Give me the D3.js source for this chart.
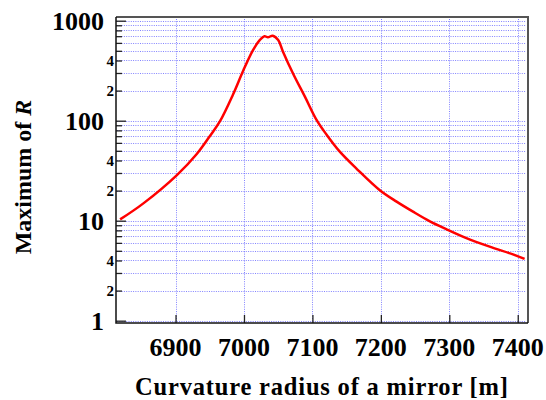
<!DOCTYPE html>
<html>
<head>
<meta charset="utf-8">
<script src="https://cdn.jsdelivr.net/npm/d3@7"></script>
<style>
  body { margin: 0; background: #fff; }
  text { font-family: "Liberation Serif"; font-weight: bold; }
</style>
</head>
<body>
<div id="chart"></div>
<script>
// data
const radius = [6819, 6853, 6902, 6931, 6950, 6965, 6984, 6999, 7013, 7023, 7030, 7035, 7042, 7050,
                7057, 7072, 7089, 7106, 7121, 7140, 7164, 7198, 7223, 7247, 7271, 7296, 7325, 7359, 7393, 7410];
const maxR = [10.3, 14.9, 28.6, 46.5, 70, 99, 183, 318, 505, 640, 700, 682, 708, 641,
              490, 293, 174, 102, 72, 49, 33.4, 20.3, 15.5, 12.3, 9.9, 8.2, 6.7, 5.5, 4.6, 4.15];
const xTicks = [6900, 7000, 7100, 7200, 7300, 7400];
const yDecades = [1, 10, 100, 1000];
const yMinorLabels = [2, 4, 20, 40, 200, 400];

const width = 546, height = 400;
const margin = {left: 116, top: 17, right: 18, bottom: 77};
const plotW = width - margin.left - margin.right;
const plotH = height - margin.top - margin.bottom;
const FONT = "Liberation Serif";

// every 1..9 step of each decade, for grid + minor ticks
const yGridVals = [];
yDecades.forEach(d => { for (let k = 1; k < 10; k++) { if (d * k <= 1000) yGridVals.push(d * k); } });

const svg = d3.select("#chart").append("svg")
    .attr("width", width)
    .attr("height", height);

const x = d3.scaleLinear().domain([6813, 7415]).range([margin.left, margin.left + plotW]);
const y = d3.scaleLog().domain([0.948, 1089]).range([margin.top + plotH, margin.top]);

///
/// GRID
///

const grid = svg.append("g")
    .attr("stroke", "#5a5aff")
    .attr("stroke-opacity", 0.75)
    .attr("stroke-width", 1)
    .attr("stroke-dasharray", "1,1.3");

grid.selectAll("line.h")
    .data(yGridVals)
    .join("line")
    .attr("class", "h")
    .attr("x1", margin.left + 1)
    .attr("x2", margin.left + plotW - 2)
    .attr("y1", d => Math.round(y(d)) + 0.5)
    .attr("y2", d => Math.round(y(d)) + 0.5);

grid.selectAll("line.v")
    .data(xTicks)
    .join("line")
    .attr("class", "v")
    .attr("x1", d => Math.round(x(d)) + 0.5)
    .attr("x2", d => Math.round(x(d)) + 0.5)
    .attr("y1", margin.top + 2)
    .attr("y2", margin.top + plotH - 1);

///
/// CURVE
///

const line = d3.line()
    .x((d, i) => x(radius[i]))
    .y(d => y(d))
    .curve(d3.curveCatmullRom.alpha(0.5));

svg.append("path")
    .datum(maxR)
    .attr("fill", "none")
    .attr("stroke", "#ff0000")
    .attr("stroke-width", 2.5)
    .attr("d", line);

///
/// AXES
///

// ticks inside the frame
const yAxis = d3.axisLeft(y)
    .tickValues(yGridVals)
    .tickSize(-6)
    .tickFormat("");
const yAx = svg.append("g")
    .attr("transform", `translate(${margin.left},0)`)
    .call(yAxis);
yAx.select(".domain").remove();
yAx.selectAll(".tick line")
    .attr("stroke", "#222")
    .attr("stroke-width", 1.3)
    .attr("x2", d => yDecades.includes(d) ? 10 : 6);

const xAxis = d3.axisBottom(x)
    .tickValues(xTicks)
    .tickSize(-8)
    .tickFormat("");
const xAx = svg.append("g")
    .attr("transform", `translate(0,${margin.top + plotH})`)
    .call(xAxis);
xAx.select(".domain").remove();
xAx.selectAll(".tick line").attr("stroke", "#222").attr("stroke-width", 1.3);

// frame
svg.append("path")
    .attr("d", `M${margin.left},${margin.top} H${margin.left + plotW} V${margin.top + plotH}`)
    .attr("fill", "none")
    .attr("stroke", "#555")
    .attr("stroke-width", 2);
svg.append("path")
    .attr("d", `M${margin.left},${margin.top} V${margin.top + plotH} H${margin.left + plotW}`)
    .attr("fill", "none")
    .attr("stroke", "#111")
    .attr("stroke-width", 1.5);

///
/// LABELS
///

svg.append("g").selectAll("text")
    .data(yDecades)
    .join("text")
    .attr("font-family", FONT)
    .attr("font-weight", "bold")
    .attr("x", 104)
    .attr("y", d => y(d))
    .attr("dy", "0.34em")
    .attr("text-anchor", "end")
    .attr("font-size", 26)
    .text(d => d);

svg.append("g").selectAll("text")
    .data(yMinorLabels)
    .join("text")
    .attr("font-family", FONT)
    .attr("font-weight", "bold")
    .attr("x", 114)
    .attr("y", d => y(d))
    .attr("dy", "0.34em")
    .attr("text-anchor", "end")
    .attr("font-size", 15)
    .text(d => String(d)[0]);

svg.append("g").selectAll("text")
    .data(xTicks)
    .join("text")
    .attr("font-family", FONT)
    .attr("font-weight", "bold")
    .attr("x", d => x(d))
    .attr("y", 356)
    .attr("text-anchor", "middle")
    .attr("font-size", 26)
    .text(d => d);

svg.append("text")
    .attr("font-family", FONT)
    .attr("font-weight", "bold")
    .attr("x", 135)
    .attr("y", 395)
    .attr("font-size", 24.5)
    .attr("textLength", 373)
    .attr("lengthAdjust", "spacing")
    .text("Curvature radius of a mirror [m]");

const yTitle = svg.append("text")
    .attr("font-family", FONT)
    .attr("font-weight", "bold")
    .attr("transform", "translate(31,177) rotate(-90)")
    .attr("text-anchor", "middle")
    .attr("font-size", 24);
yTitle.append("tspan").text("Maximum of ");
yTitle.append("tspan").attr("font-style", "italic").text("R");
</script>
</body>
</html>
